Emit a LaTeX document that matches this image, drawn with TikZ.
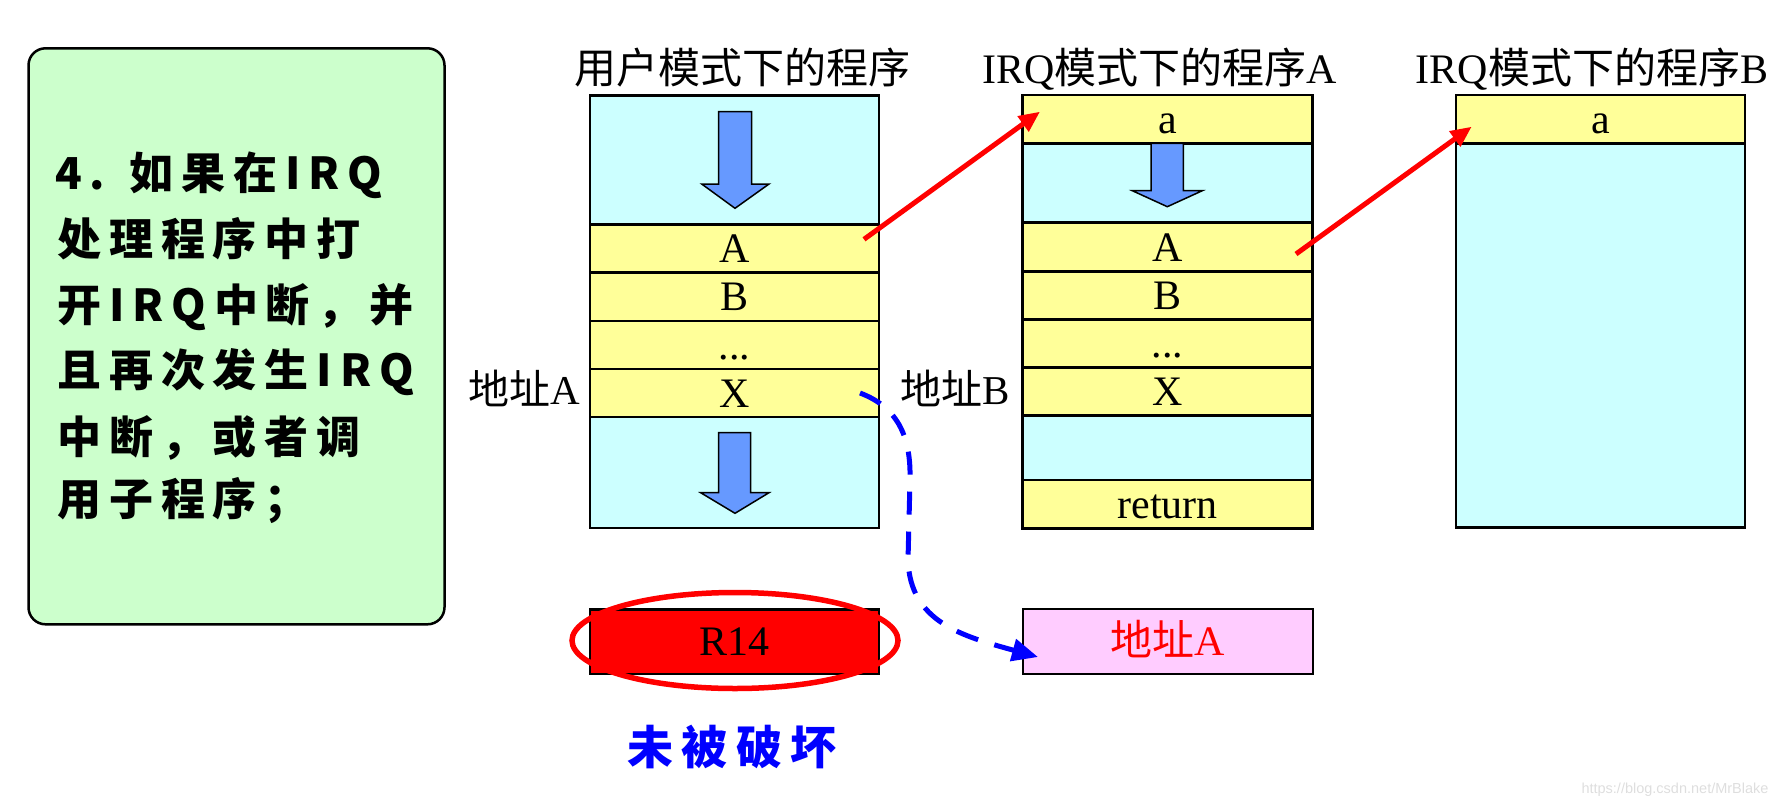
\documentclass[tikz,border=0pt]{standalone}
\usepackage{fontspec}
\setmainfont{Liberation Serif}
\newfontfamily\cjk{Noto Sans CJK SC}
\newfontfamily\hand[LetterSpace=18]{Noto Sans CJK SC}
\newfontfamily\wmfont{Liberation Sans}
\usetikzlibrary{arrows.meta,shapes.geometric}
\definecolor{cyanbg}{HTML}{CCFFFF}
\definecolor{yellowbg}{HTML}{FFFF99}
\definecolor{greenbg}{HTML}{CCFFCC}
\definecolor{pinkbg}{HTML}{FFCCFF}
\definecolor{arrowblue}{HTML}{6699FF}
\begin{document}
\begin{tikzpicture}[x=1pt,y=-1pt,
  cell/.style={draw=black, line width=2.5pt, inner sep=0pt, outer sep=0pt,
    minimum width=289pt, text height=30pt, text depth=2pt,
    font=\fontsize{42}{50}\selectfont},
  cy/.style={cell, fill=cyanbg},
  ye/.style={cell, fill=yellowbg},
  titletext/.style={anchor=base, inner sep=0pt, font=\fontsize{42}{50}\selectfont},
  sidelabel/.style={anchor=base, inner sep=0pt, font=\fontsize{41}{48}\selectfont},
  handline/.style={anchor=base west, inner sep=0pt, font=\hand\bfseries\fontsize{44}{52}\selectfont},
  blockarrow/.style={fill=arrowblue, draw=black, line width=1.5pt, line join=miter},
  redarrow/.style={draw=red, line width=5pt, -{Triangle[length=21pt,width=18pt]}},
  bluedash/.style={draw=blue, line width=5pt, dash pattern=on 23pt off 17pt, -{Triangle[length=26pt,width=22pt]}}
]
\useasboundingbox (0,0) rectangle (1787,808);

% green description box
\node[draw=black, line width=2.5pt, fill=greenbg, rounded corners=17pt,
  minimum width=416pt, minimum height=576pt, inner sep=0pt] (gbox) at (236.5,336.3) {};
\node[handline] (g1) at (55,189.7) {4. 如果在IRQ};
\node[handline] (g2) at (57,255.7) {处理程序中打};
\node[handline] (g3) at (57,321.7) {开IRQ中断，并};
\node[handline] (g4) at (57,386.7) {且再次发生IRQ};
\node[handline] (g5) at (57,453) {中断，或者调};
\node[handline] (g6) at (57,515.7) {用子程序；};

% titles
\node[titletext] (t1) at (742.5,83) {\cjk 用户模式下的程序};
\node[titletext] (t2) at (1159.5,83) {IRQ{\cjk 模式下的程序}A};
\node[titletext] (t3) at (1592,83) {IRQ{\cjk 模式下的程序}B};

% column 1: user mode program
\node[cy, minimum height=128.8pt] (u0) at (734.5,160.1) {};
\node[ye, minimum height=48pt] (uA) at (734.5,248.5) {A};
\node[ye, minimum height=48.5pt] (uB) at (734.5,296.8) {B};
\node[ye, minimum height=48pt] (ud) at (734.5,345) {...};
\node[ye, minimum height=48pt] (uX) at (734.5,393) {X};
\node[cy, minimum height=111pt] (u5) at (734.5,472.5) {};
\draw[blockarrow] (718.7,111.7) -- (751.7,111.7) -- (751.7,184) -- (769,184) -- (735,208.3) -- (701.7,184) -- (718.7,184) -- cycle;
\draw[blockarrow] (718.5,432.7) -- (750.7,432.7) -- (750.7,492.7) -- (769,492.7) -- (735,513.3) -- (700.7,492.7) -- (718.5,492.7) -- cycle;

% column 2: IRQ program A
\node[ye, minimum width=290pt, minimum height=48.3pt] (aa) at (1167.7,119.2) {a};
\node[cy, minimum width=290pt, minimum height=79.4pt] (a1) at (1167.7,183) {};
\node[ye, minimum width=290pt, minimum height=49pt] (aA) at (1167.7,247.2) {A};
\node[ye, minimum width=290pt, minimum height=47.6pt] (aB) at (1167.7,295.5) {B};
\node[ye, minimum width=290pt, minimum height=48.4pt] (ad) at (1167.7,343.5) {...};
\node[ye, minimum width=290pt, minimum height=48pt] (aX) at (1167.7,391.7) {X};
\node[cy, minimum width=290pt, minimum height=64.3pt] (a6) at (1167.7,447.9) {};
\node[ye, minimum width=290pt, minimum height=48.3pt] (aret) at (1167.7,504.2) {return};
\draw[blockarrow] (1151,143.3) -- (1183.3,143.3) -- (1183.3,190.7) -- (1202.3,190.7) -- (1167.3,206.7) -- (1132.3,190.7) -- (1151,190.7) -- cycle;

% column 3: IRQ program B
\node[ye, minimum width=289.3pt, minimum height=48.3pt] (ba) at (1600.4,119.2) {a};
\node[cy, minimum width=289.3pt, minimum height=384.4pt] (b1) at (1600.4,335.5) {};

% address labels
\node[sidelabel] (labA) at (524,404.6) {{\cjk 地址}A};
\node[sidelabel] (labB) at (955,404.6) {{\cjk 地址}B};

% bottom boxes
\node[cell, fill=red, minimum height=64.5pt] (r14) at (734.5,641.8) {R14};
\node[draw=red, line width=5.5pt, ellipse, minimum width=326pt, minimum height=96pt, inner sep=0pt] (ring) at (735,640.5) {};
\node[cell, fill=pinkbg, minimum width=290pt, minimum height=65pt, text=red] (addrA) at (1168,641.5) {{\cjk 地址}A};
\node[inner sep=0pt, text=blue, font=\hand\bfseries\fontsize{46}{52}\selectfont] (note) at (732,746.5) {未被破坏};

% connectors
\coordinate (r1s) at (864,239.3);
\coordinate (r1e) at (1040,111.7);
\coordinate (r2s) at (1296,254);
\coordinate (r2e) at (1471.7,126.7);
\coordinate (ds) at (860,393);
\coordinate (de) at (1038,657);
\draw[redarrow] (r1s) -- (r1e);
\draw[redarrow] (r2s) -- (r2e);
\draw[bluedash] (ds) .. controls (900,408) and (911,440) .. (910,480) -- (908,560) .. controls (910,622) and (962,636) .. (de);

% watermark
\node[inner sep=0pt, text=black!13, font=\wmfont\fontsize{14.5}{16}\selectfont] (wm) at (1675,790) {https://blog.csdn.net/MrBlake};
\end{tikzpicture}
\end{document}
